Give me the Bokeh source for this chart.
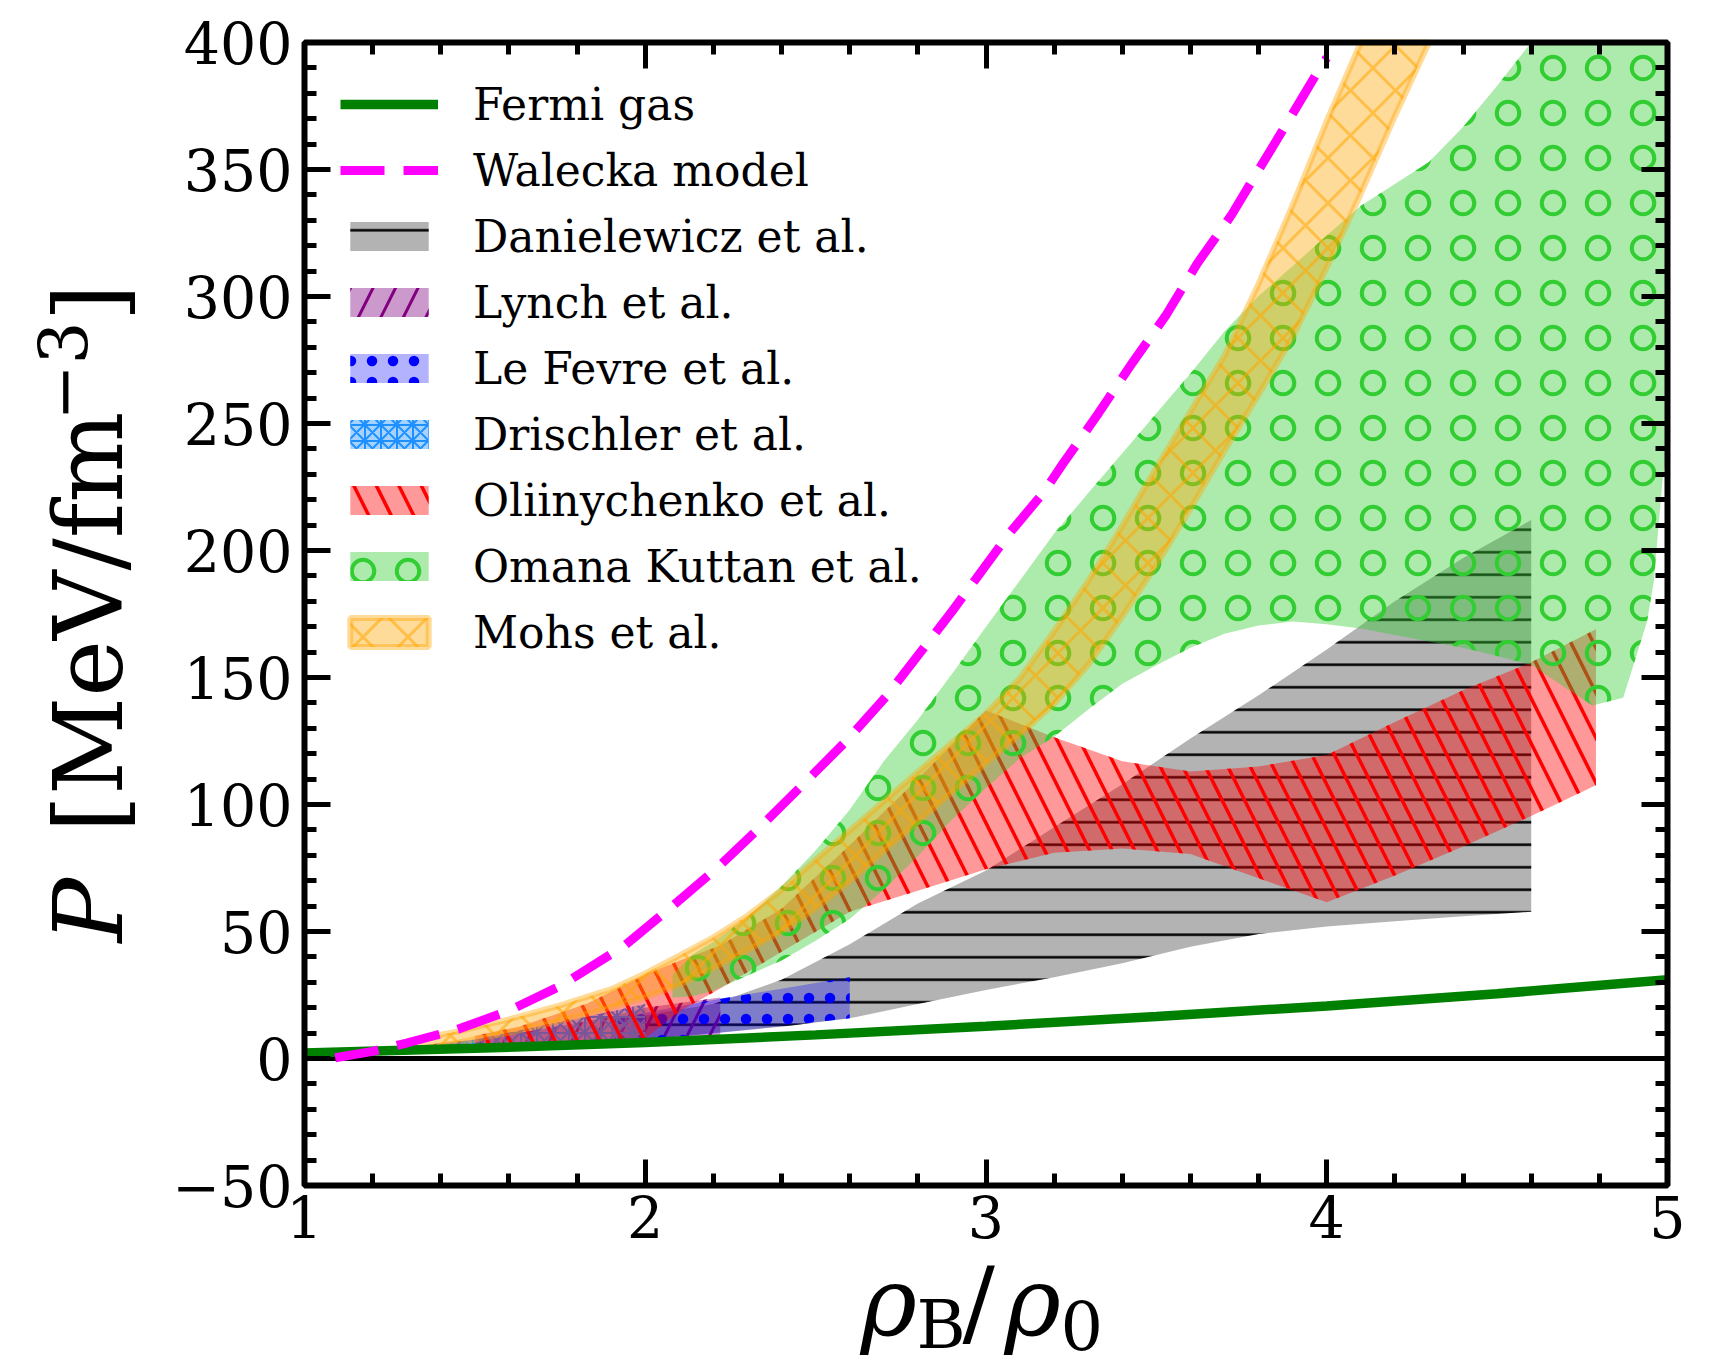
import math
from bokeh.plotting import figure
from bokeh.models import Range1d, FixedTicker, LinearAxis, Label, Legend, LegendItem
from bokeh.embed import file_html
from bokeh.resources import INLINE

# ---------------- data: density rho_B/rho_0 and pressure P [MeV/fm^3] ----------------
fermi_x = [1.0, 1.5, 2.0, 2.5, 3.0, 3.5, 4.0, 4.5, 5.0]
fermi_p = [2.2, 4.0, 6.3, 9.3, 12.7, 16.5, 20.7, 25.5, 31.0]

walecka_x = [1.09, 1.2, 1.3, 1.45, 1.6, 1.75, 1.94, 2.08, 2.215, 2.34, 2.46, 2.59,
             2.71, 2.9, 3.07, 3.17, 3.23, 3.33, 3.43, 3.53, 3.62, 3.72, 3.81, 3.9,
             3.98, 4.0]
walecka_p = [0.3, 2.8, 6.1, 11.5, 18.8, 28.5, 44.5, 60, 75.5, 91.5, 107.5, 125,
             143, 176, 207, 223, 235, 254, 274, 293, 313, 332, 352, 372, 390, 394]

danielewicz_x = [2.0, 2.2, 2.4, 2.6, 2.8, 3.0, 3.2, 3.4, 3.6, 3.8, 4.0, 4.2, 4.4, 4.6]
danielewicz_lo = [7.5, 10, 12.5, 15.8, 21.5, 27, 32, 37.5, 44, 49, 52, 54, 56, 57.8]
danielewicz_hi = [17, 21.5, 31, 45, 61, 74, 91, 108, 126, 143, 161, 180, 197, 212]

lynch_x = [1.3, 1.5, 1.7, 1.9, 2.0, 2.22]
lynch_lo = [2.5, 3.5, 4.8, 6.2, 7.0, 8.5]
lynch_hi = [4.5, 7.5, 11.5, 16.5, 20, 24]

lefevre_x = [1.9, 2.0, 2.2, 2.4, 2.6]
lefevre_lo = [6.5, 7.5, 9.8, 12.8, 15.8]
lefevre_hi = [15, 18, 23, 27.5, 32]

drischler_x = [1.3, 1.5, 1.7, 1.9, 2.0]
drischler_lo = [2.5, 3.5, 4.8, 6.5, 7.5]
drischler_hi = [3.5, 7.5, 13.0, 18.5, 21.5]

oliinychenko_x = [1.5, 1.63, 1.83, 2.0, 2.1, 2.22, 2.4, 2.6, 2.8, 3.0, 3.2, 3.4,
                  3.6, 3.8, 4.0, 4.2, 4.4, 4.6, 4.79]
oliinychenko_lo = [3.5, 4.2, 5.5, 8, 18.5, 27.6, 42, 57.8, 66, 74.5, 81, 82.7,
                   80.5, 71, 61.5, 72, 83.5, 95.5, 107.6]
oliinychenko_hi = [9, 12.5, 21.7, 33, 38.5, 44.5, 59, 84, 110, 137, 126.5, 117,
                   113, 115, 119.5, 132.5, 145, 156, 169]

omana_x = [2.08, 2.14, 2.2, 2.3, 2.4, 2.5, 2.6, 2.7, 2.8, 2.9, 3.0, 3.1, 3.2, 3.3,
           3.4, 3.5, 3.6, 3.7, 3.8, 3.9, 4.0, 4.1, 4.2, 4.3, 4.4, 4.5, 4.6, 4.7,
           4.78, 4.87, 4.94, 4.96, 4.985, 5.0]
omana_lo = [24, 24.5, 26.7, 32.7, 38.6, 46.4, 54.9, 66.4, 79.6, 94, 106.5, 118.3,
            126.7, 137.4, 147.5, 154.8, 161.7, 167.2, 170.5, 172, 171, 169.3, 166.7,
            164.2, 161.7, 158.5, 155, 146, 139, 142, 172, 188, 227, 240]
omana_hi = [33, 41, 46, 55.6, 67.8, 81.9, 97.9, 117, 133.4, 151.4, 170, 188.3,
            206.7, 222.6, 238.3, 254, 269.7, 286.3, 300.2, 312, 324, 335.7, 344.3,
            353, 366.7, 383, 400.5, 430, 430, 430, 430, 430, 430, 430]

mohs_x = [1.3, 1.45, 1.6, 1.75, 1.9, 2.0, 2.1, 2.2, 2.3, 2.4, 2.5, 2.6, 2.7, 2.8,
          2.9, 3.0, 3.1, 3.2, 3.3, 3.4, 3.5, 3.6, 3.7, 3.8, 3.9, 4.0, 4.1, 4.2, 4.3]
mohs_lo = [2.8, 6.2, 10.2, 14.8, 20.1, 24.1, 29, 35.6, 42.6, 50.1, 59.1, 69.8,
           81.7, 93.2, 104.7, 116.2, 127.7, 139.7, 154.9, 174, 194.3, 216.5,
           239.3, 261.3, 284, 311.4, 340.5, 371, 404]
mohs_hi = [6.7, 10.7, 15.4, 20.9, 27.3, 33.5, 40.5, 47.7, 56.2, 66.4, 78.2, 89.8,
           101.3, 112.8, 124.3, 135.8, 149.8, 168.2, 188, 209.7, 232.6, 254.7,
           276.7, 305, 336, 369, 403, 436, 468]

x_major = [1, 2, 3, 4, 5]
y_major = [-50, 0, 50, 100, 150, 200, 250, 300, 350, 400]

# ---------------- geometry ----------------
W, H = 1717, 1372
LEFT, RIGHT, TOP, BOTTOM = 304, 50, 42, 187          # margins around the axes box
X0, X1, Y0, Y1 = x_major[0], x_major[-1], y_major[0], y_major[-1]
SX = (W - LEFT - RIGHT) / (X1 - X0)                   # px per x unit
SY = (H - TOP - BOTTOM) / (Y1 - Y0)                   # px per y unit
SERIF = "DejaVu Serif"

# the frame spans the whole canvas; the axes are pinned to the box edges
p = figure(width=W, height=H,
           x_range=Range1d(X0 - LEFT / SX, X1 + RIGHT / SX),
           y_range=Range1d(Y0 - BOTTOM / SY, Y1 + TOP / SY),
           min_border=0, x_axis_location=None, y_axis_location=None,
           output_backend="svg", toolbar_location=None)
p.grid.visible = False
p.outline_line_color = None
p.background_fill_color = "white"
p.border_fill_color = "white"


def to_data(px, py):
    """canvas pixel -> data coordinates"""
    return X0 + (px - LEFT) / SX, Y1 - (py - TOP) / SY


x_ticker = FixedTicker(ticks=x_major,
                       minor_ticks=[a + k * 0.2 for a in x_major[:-1] for k in range(1, 5)])
y_ticker = FixedTicker(ticks=y_major,
                       minor_ticks=[a + k * 10 for a in y_major[:-1] for k in range(1, 5)])

ax_bottom = LinearAxis(fixed_location=Y0, ticker=x_ticker)
ax_top = LinearAxis(fixed_location=Y1, ticker=x_ticker)
ax_left = LinearAxis(fixed_location=X0, ticker=y_ticker)
ax_right = LinearAxis(fixed_location=X1, ticker=y_ticker)
p.add_layout(ax_bottom, "below")
p.add_layout(ax_top, "above")
p.add_layout(ax_left, "left")
p.add_layout(ax_right, "right")

for ax in (ax_bottom, ax_top, ax_left, ax_right):
    ax.axis_line_color = None
    ax.major_tick_in = 26
    ax.major_tick_out = 0
    ax.major_tick_line_width = 5
    ax.major_tick_line_color = "black"
    ax.minor_tick_in = 12
    ax.minor_tick_out = 0
    ax.minor_tick_line_width = 5
    ax.minor_tick_line_color = "black"
    ax.major_label_text_font = SERIF
    ax.major_label_text_font_size = "57px"
    ax.major_label_text_color = "black"

for ax in (ax_top, ax_right):
    ax.major_label_text_color = None

ax_bottom.major_label_standoff = 9
ax_left.major_label_standoff = 12
ax_left.major_label_overrides = {-50: "\u221250"}


def band(x, lo, hi):
    lo = [min(v, Y1) for v in lo]
    hi = [min(v, Y1) for v in hi]
    return list(x) + list(x)[::-1], lo + hi[::-1]


# zero line
p.segment(x0=X0, x1=X1, y0=0, y1=0, line_color="black", line_width=5)

xs, ys = band(danielewicz_x, danielewicz_lo, danielewicz_hi)
r_dan = p.patch(xs, ys, fill_color="gray", fill_alpha=0.6, line_alpha=0,
                hatch_pattern="-", hatch_color="black", hatch_scale=22.5, hatch_weight=2.5)

xs, ys = band(lynch_x, lynch_lo, lynch_hi)
r_lyn = p.patch(xs, ys, fill_color="purple", fill_alpha=0.4, line_alpha=0,
                hatch_pattern="/", hatch_color="purple", hatch_scale=45, hatch_weight=3)

xs, ys = band(lefevre_x, lefevre_lo, lefevre_hi)
r_lef = p.patch(xs, ys, fill_color="blue", fill_alpha=0.3, line_alpha=0,
                hatch_pattern=".", hatch_color="blue", hatch_scale=21, hatch_weight=3)

xs, ys = band(drischler_x, drischler_lo, drischler_hi)
r_dri = p.patch(xs, ys, fill_color="dodgerblue", fill_alpha=0.4, line_alpha=0,
                hatch_pattern="*", hatch_color="dodgerblue", hatch_scale=16, hatch_weight=2)

xs, ys = band(oliinychenko_x, oliinychenko_lo, oliinychenko_hi)
r_oli = p.patch(xs, ys, fill_color="red", fill_alpha=0.4, line_alpha=0,
                hatch_pattern="\\", hatch_color="red", hatch_scale=45, hatch_weight=3.5)

xs, ys = band(omana_x, omana_lo, omana_hi)
r_oma = p.patch(xs, ys, fill_color="limegreen", fill_alpha=0.4, line_alpha=0,
                hatch_pattern="o", hatch_color="limegreen", hatch_scale=45, hatch_weight=4)

xs, ys = band(mohs_x, mohs_lo, mohs_hi)
r_moh = p.patch(xs, ys, fill_color="orange", fill_alpha=0.4,
                line_color="orange", line_alpha=0.4, line_width=6,
                hatch_pattern="x", hatch_color="orange", hatch_alpha=0.55,
                hatch_scale=45, hatch_weight=3)

r_fermi = p.line(fermi_x, fermi_p, line_color="green", line_width=9.5)
r_wal = p.line(walecka_x, walecka_p, line_color="magenta", line_width=9,
               line_dash="44 19")

# axes box
p.quad(left=X0, right=X1, bottom=Y0, top=Y1, fill_color=None,
       line_color="black", line_width=6)

# ---------------- legend ----------------
PAD, ITEM_H, GAP, N_ITEMS = 36, 52, 14, 9
content_h = N_ITEMS * ITEM_H + (N_ITEMS - 1) * GAP
legend = Legend(items=[
    LegendItem(label="Fermi gas", renderers=[r_fermi]),
    LegendItem(label="Walecka model", renderers=[r_wal]),
    LegendItem(label="Danielewicz et al.", renderers=[r_dan]),
    LegendItem(label="Lynch et al.", renderers=[r_lyn]),
    LegendItem(label="Le Fevre et al.", renderers=[r_lef]),
    LegendItem(label="Drischler et al.", renderers=[r_dri]),
    LegendItem(label="Oliinychenko et al.", renderers=[r_oli]),
    LegendItem(label="Omana Kuttan et al.", renderers=[r_oma]),
    LegendItem(label="Mohs et al.", renderers=[r_moh]),
], location=(LEFT + PAD, H - TOP - PAD - content_h))
legend.label_text_font = SERIF
legend.label_text_font_size = "44px"
legend.label_text_color = "black"
legend.label_height = ITEM_H
legend.glyph_width = 98
legend.glyph_height = 36
legend.label_standoff = 35
legend.spacing = GAP
legend.padding = PAD
legend.margin = 0
legend.border_line_color = None
legend.background_fill_alpha = 0
p.add_layout(legend, "center")

# ---------------- axis titles built from pieces (italic symbols, sub/superscripts) ----------------
BIG = 96
SMALL = 67
DROP = 0.45   # anchor-to-baseline offset of the text box, in em


def put(text, px, py, size, italic=False, angle=0.0):
    # (px, py) is where the glyph baseline should sit; shift the anchor accordingly
    shift = DROP * size
    if angle:
        px -= shift
    else:
        py -= shift
    x, y = to_data(px, py)
    p.add_layout(Label(x=x, y=y, text=text, angle=angle,
                       text_font=SERIF, text_font_size=f"{size}px",
                       text_font_style="italic" if italic else "normal",
                       text_color="black", text_align="left",
                       text_baseline="alphabetic"))


# x title: rho_B / rho_0
bx, by = 860, 1345
put("\u03c1", bx, by, BIG, italic=True)
put("B", bx + 56, by + 10, SMALL)
put("/", bx + 102, by, BIG)
put("\u03c1", bx + 144, by, BIG, italic=True)
put("0", bx + 200, by + 10, SMALL)

# y title: P [MeV/fm^-3], reading upwards
vx, vy = 132, 942
up = math.pi / 2
put("P", vx, vy, BIG, italic=True, angle=up)
put("[MeV/fm", vx, vy - 110, BIG, angle=up)
put("\u22123", vx - 40, vy - 522, SMALL, angle=up)
put("]", vx, vy - 621, BIG, angle=up)

open("out.html", "w").write(file_html(p, INLINE))
